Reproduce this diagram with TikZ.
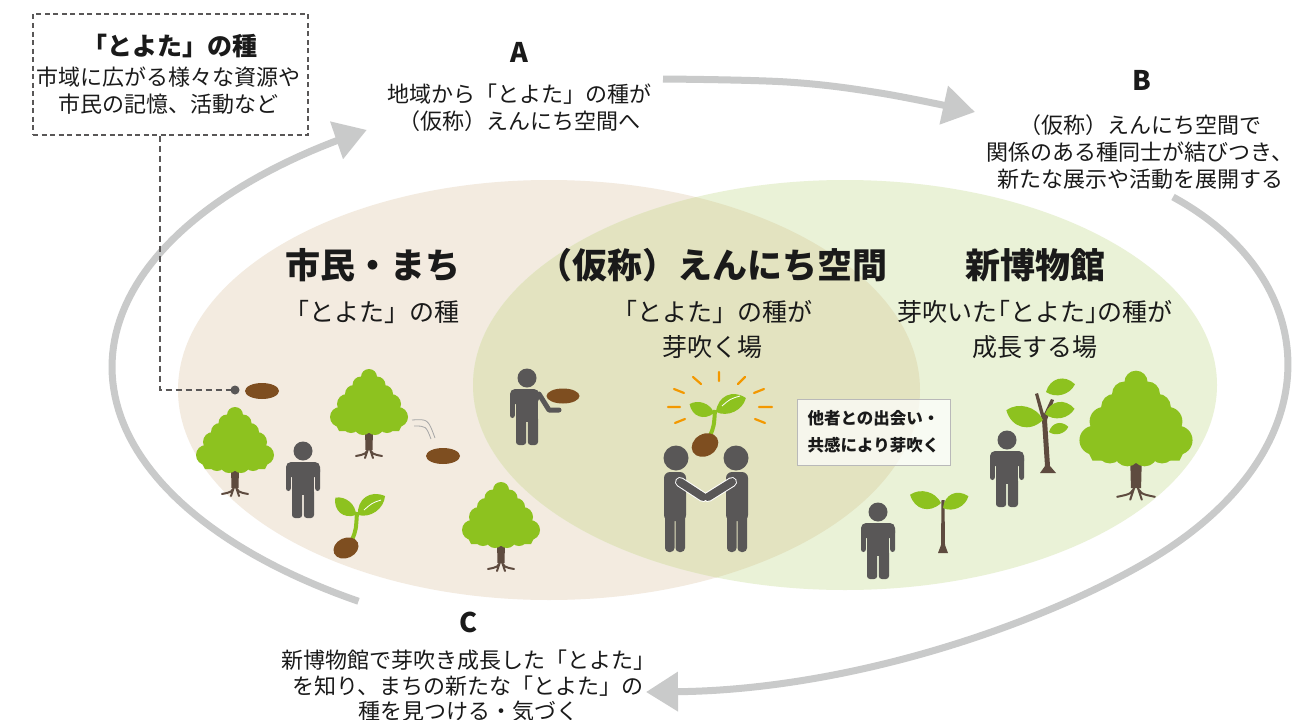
\documentclass[tikz,border=0pt]{standalone}
\usepackage{fontspec}
\setmainfont{Noto Sans CJK JP}
\usetikzlibrary{arrows.meta}

\definecolor{beigezone}{HTML}{F3EBE0}
\definecolor{greenzone}{HTML}{EAF2D7}
\definecolor{overlapzone}{HTML}{E3E3C0}
\definecolor{leafgreen}{HTML}{8DC21F}
\definecolor{icongray}{HTML}{595757}
\definecolor{seedbrown}{HTML}{7E4E20}
\definecolor{trunkbrown}{HTML}{5E4B3F}
\definecolor{cyclegray}{HTML}{C9CACA}
\definecolor{rayorange}{HTML}{F39800}
\definecolor{inktext}{HTML}{1A1A1A}

\tikzset{
  bodytext/.style={font=\fontsize{22}{27}\selectfont, align=center, inner sep=0pt, text=inktext},
  zonehead/.style={font=\bfseries\fontsize{35}{40}\selectfont, inner sep=0pt, text=inktext},
  zonesub/.style={font=\fontsize{25}{35}\selectfont, align=center, inner sep=0pt, text=inktext},
  stepletter/.style={font=\bfseries\fontsize{27}{30}\selectfont, inner sep=0pt, text=inktext},
  cyclearrow/.style={draw=cyclegray, line width=7pt, -{Triangle[width=38pt,length=32pt]}},
  seed/.style={fill=seedbrown},
  leader/.style={draw=icongray, line width=1.4pt, dash pattern=on 6pt off 4pt},
  pics/tree/.style={code={
    \fill[trunkbrown] (-4,-2) -- (4,-2) -- (3.5,18) -- (-3.5,18) -- cycle;
    \draw[trunkbrown, line width=2pt, line cap=round]
      (0,15) .. controls (-3,22) .. (-13,24)
      (0,15) .. controls (3,22) .. (13,24)
      (-1,17) -- (-4,26) (1,17) -- (4,26);
    \fill[leafgreen] (0,-58) -- (-36,-13) -- (-30,-1) -- (30,-1) -- (36,-13) -- cycle;
    \foreach \cx/\cy/\r in {0/-55/8, -8/-47/8.5, 8/-47/8.5, -15/-38/9, 15/-38/9,
        -22/-28/10, 22/-28/10, -29/-15/10, 29/-15/10,
        -18/-8/9, -6/-6/9, 6/-6/9, 18/-8/9}
      \fill[leafgreen] (\cx,\cy) circle[radius=\r pt];
  }},
  pics/person/.style={code={
    \fill[icongray] (0,0) circle[radius=9.5pt];
    \fill[icongray, rounded corners=5pt] (-17,11) rectangle (17,26);
    \fill[icongray, rounded corners=2.5pt] (-17,16) rectangle (-12.2,40);
    \fill[icongray, rounded corners=2.5pt] (12.2,16) rectangle (17,40);
    \fill[icongray] (-11,16) rectangle (11,44);
    \fill[icongray, rounded corners=3pt] (-11,38) rectangle (-0.8,67);
    \fill[icongray, rounded corners=3pt] (0.8,38) rectangle (11,67);
  }},
  pics/personhold/.style={code={
    \fill[icongray] (0,0) circle[radius=9.5pt];
    \fill[icongray, rounded corners=5pt] (-17,11) rectangle (12,26);
    \fill[icongray, rounded corners=2.5pt] (-17,16) rectangle (-12.2,40);
    \fill[icongray] (-11,16) rectangle (11,44);
    \fill[icongray, rounded corners=3pt] (-11,38) rectangle (-0.8,67);
    \fill[icongray, rounded corners=3pt] (0.8,38) rectangle (11,67);
    \draw[icongray, line width=5pt, line cap=round, line join=round]
      (12,16) -- (22,32) -- (32,32);
  }},
  pics/leaf/.style={code={
    \fill[leafgreen] (0,0) .. controls (0.25*#1,-0.42*#1) and (0.75*#1,-0.42*#1) .. (#1,0)
      .. controls (0.75*#1,0.3*#1) and (0.25*#1,0.3*#1) .. (0,0);
  }},
}

\begin{document}
\begin{tikzpicture}[x=1pt,y=-1pt]
\useasboundingbox (0,0) rectangle (1304,720);
\fill[white] (0,0) rectangle (1304,720);

% three zones
\fill[beigezone] (549,390) ellipse[x radius=371pt, y radius=210pt];
\fill[greenzone] (845,385) ellipse[x radius=372pt, y radius=205pt];
\begin{scope}
  \clip (549,390) ellipse[x radius=371pt, y radius=210pt];
  \fill[overlapzone] (845,385) ellipse[x radius=372pt, y radius=205pt];
\end{scope}

% cycle arrows A -> B -> C -> A
\draw[cyclearrow] plot[domain=235:124, samples=80, variable=\t]
  ({690+578*cos(\t)}, {367-286*sin(\t)});
\draw[cyclearrow] plot[smooth, tension=0.6] coordinates
  {(663,79) (787,82) (880,93) (975,112)};
\coordinate (bstart) at (1173,197);
\coordinate (bmid) at (1150,560);
\coordinate (bend) at (646,692);
\draw[cyclearrow] (bstart) .. controls (1325,280) and (1335,450) .. (bmid)
  .. controls (1040,625) and (850,690) .. (bend);

% seed source box
\node[draw=icongray, line width=1.1pt, dash pattern=on 5pt off 3.5pt,
      minimum width=275pt, minimum height=121pt, inner sep=0pt] (seedbox) at (170.5,74.5) {};
\node[font=\bfseries\fontsize{25}{28}\selectfont, text=inktext, inner sep=0pt] (seedtitle) at (170,46) {「とよた」の種};
\node[bodytext] (seedtext) at (168,91) {市域に広がる様々な資源や\\市民の記憶、活動など};
\coordinate (seeddot) at (235,390);
\draw[leader] ([xshift=-10.5pt]seedbox.south) |- (seeddot);
\fill[icongray] (seeddot) circle[radius=4.5pt];
\fill[seed] (262,391) ellipse[x radius=17pt, y radius=8pt];

% step labels
\node[stepletter] (la) at (519,52) {A};
\node[bodytext] (ta) at (519,108) {地域から「とよた」の種が\\（仮称）えんにち空間へ};
\node[stepletter] (lb) at (1142,80) {B};
\node[bodytext] (tb) at (1140,152) {（仮称）えんにち空間で\\関係のある種同士が結びつき、\\新たな展示や活動を展開する};
\node[stepletter] (lc) at (468,622) {C};
\node[bodytext, font=\fontsize{22}{25.5}\selectfont] (tc) at (468,686) {新博物館で芽吹き成長した「とよた」\\を知り、まちの新たな「とよた」の\\種を見つける・気づく};

% zone headings
\node[zonehead] (h1) at (373,265) {市民・まち};
\node[zonesub] (s1) at (372,312) {「とよた」の種};
\node[zonehead] (h2) at (712,265) {（仮称）えんにち空間};
\node[zonesub] (s2) at (712,329.5) {「とよた」の種が\\芽吹く場};
\node[zonehead] (h3) at (1035,265) {新博物館};
\node[zonesub] (s3) at (1035,329.5) {\addfontfeatures{RawFeature=+halt}芽吹いた「とよた」の種が\\成長する場};

% town zone icons
\pic at (235,470) {tree};
\pic at (369,432) {tree};
\pic at (501,545) {tree};
\pic at (303,451) {person};
\fill[seed] (443,456) ellipse[x radius=17pt, y radius=8pt];
\draw[gray!70, line width=0.8pt] (412,420) .. controls (428,419) .. (435,438)
                                 (414,426) .. controls (426,426) .. (431,439);
% sprouting seed
\draw[leafgreen, line width=4pt] (352,540) .. controls (356,530) .. (357,512);
\pic[rotate=140] at (356,515) {leaf=27};
\pic[rotate=35] at (358,515) {leaf=33};
\draw[white, line width=0.8pt] (364,510) .. controls (372,503) .. (381,500);
\fill[seed, rotate around={25:(346,548)}] (346,548) ellipse[x radius=13pt, y radius=10pt];

% encounter zone icons
\fill[seed] (563,396) ellipse[x radius=16.5pt, y radius=7.5pt];
\pic at (527,378) {personhold};
% rays around the sprout
\draw[rayorange, line width=2.2pt, line cap=round]
  (719,372) -- (719,381)  (693,377) -- (701,384)  (745,377) -- (738,384)
  (674,389) -- (684,393)  (764,389) -- (754,393)  (668,407) -- (680,407)
  (772,407) -- (759,407)  (675,423) -- (685,419)  (765,423) -- (755,419);
\draw[leafgreen, line width=4pt] (710,436) .. controls (714,426) .. (715,410);
\pic[rotate=160] at (714,413) {leaf=26};
\pic[rotate=25] at (716,412) {leaf=33};
\draw[white, line width=0.8pt] (722,406) .. controls (730,399) .. (740,396);
\fill[seed, rotate around={30:(705,445)}] (705,445) ellipse[x radius=14pt, y radius=11pt];
% handshake
\fill[icongray] (676,458) circle[radius=12.5pt];
\fill[icongray] (736,458) circle[radius=12.5pt];
\fill[icongray, rounded corners=6pt] (664,472) rectangle (686,521);
\fill[icongray, rounded corners=4pt] (665,512) rectangle (674.5,552);
\fill[icongray, rounded corners=4pt] (675.5,512) rectangle (685,552);
\fill[icongray, rounded corners=6pt] (726,472) rectangle (748,521);
\fill[icongray, rounded corners=4pt] (727,512) rectangle (736.5,552);
\fill[icongray, rounded corners=4pt] (737.5,512) rectangle (747,552);
\draw[white, line width=10pt, line cap=round] (680,482) -- (703,497) (732,482) -- (708,497);
\draw[icongray, line width=8pt, line cap=round] (680,482) -- (703,497) (732,482) -- (708,497);

% note box
\node[draw=gray!55, fill=white, fill opacity=0.7, text opacity=1, line width=0.8pt,
      minimum width=153pt, minimum height=66pt, inner sep=0pt, align=center,
      font=\bfseries\fontsize{16.5}{27}\selectfont, text=inktext] (note) at (873.5,432)
  {他者との出会い・\\共感により芽吹く};

% museum zone icons
\pic at (878,512) {person};
\pic at (1007,440) {person};
\pic[scale=1.45] at (1136,462) {tree};
% young sapling
\fill[trunkbrown] (938,553) -- (948,553) -- (945,545) -- (944.5,500) -- (941.5,500) -- (941,545) -- cycle;
\pic[rotate=165] at (941,503) {leaf=32};
\pic[rotate=25] at (943,508) {leaf=28};
% growing tree
\fill[trunkbrown] (1040,473) -- (1056,473) -- (1050,466) -- (1047,420) -- (1054,400) -- (1051,399)
  -- (1044,414) -- (1038,393) -- (1035,394) -- (1042,420) -- (1045,466) -- cycle;
\pic[rotate=165] at (1043,420) {leaf=38};
\pic[rotate=15] at (1046,392) {leaf=30};
\pic[rotate=10] at (1045,414) {leaf=30};
\pic[rotate=15] at (1049,432) {leaf=20};
\end{tikzpicture}
\end{document}
